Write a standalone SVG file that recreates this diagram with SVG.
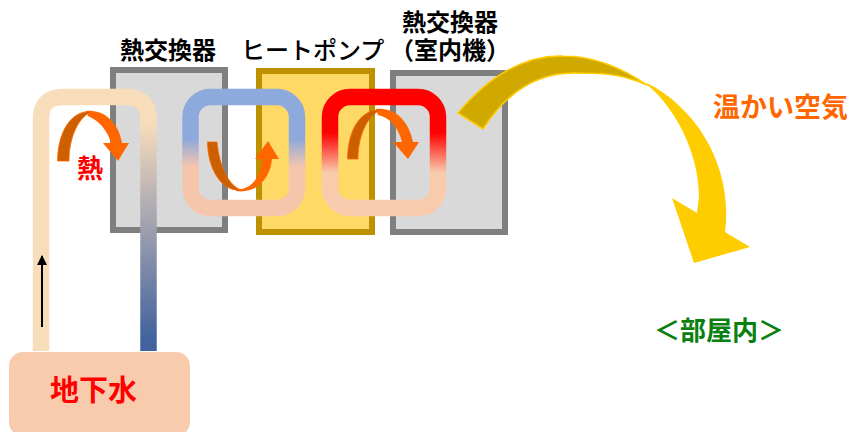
<svg xmlns="http://www.w3.org/2000/svg" width="847" height="432" viewBox="0 0 847 432">
<style>
text{font-family:"Noto Sans CJK JP","Noto Sans",sans-serif}
.lb{font-size:24px;font-weight:700;fill:#000}
.hx{fill:#D9D9D9;stroke:#7F7F7F;stroke-width:6}
.tube{fill:none;stroke-width:16.500}
.or{fill:#FF6600}
.dk{fill:#CC5F00;stroke:#FF6600;stroke-width:.8}
</style>
<defs>
<linearGradient id="g1" gradientUnits="userSpaceOnUse" x1="0" y1="97" x2="0" y2="351">
<stop offset="0.1" stop-color="#F8DDBB"/><stop offset="0.5" stop-color="#A2A2B0"/><stop offset="0.95" stop-color="#42639D"/>
</linearGradient>
<linearGradient id="g2" gradientUnits="userSpaceOnUse" x1="0" y1="88" x2="0" y2="216">
<stop offset="0.4" stop-color="#8EA9DB"/><stop offset="0.62" stop-color="#F6C6AC"/>
</linearGradient>
<linearGradient id="g3" gradientUnits="userSpaceOnUse" x1="0" y1="88" x2="0" y2="216">
<stop offset="0.35" stop-color="#FF0000"/><stop offset="0.66" stop-color="#F8CBAD"/>
</linearGradient>
<marker id="ah" markerWidth="10" markerHeight="10" refX="9" refY="5" orient="auto" markerUnits="userSpaceOnUse"><path d="M0 0L10 5L0 10Z" fill="#000"/></marker>
</defs>

<g id="hx-left"><rect class="hx" x="113" y="70" width="112" height="160"/></g>
<g id="heat-pump"><rect x="259" y="71" width="113" height="161" fill="#FFD966" stroke="#BF9000" stroke-width="6"/></g>
<g id="hx-indoor"><rect class="hx" x="393" y="73" width="112" height="159"/></g>
<g id="groundwater"><rect x="9" y="352" width="181" height="84" rx="14" fill="#F8CBAD"/>
<text x="50" y="401" font-size="29" font-weight="700" fill="#FF0000">地下水</text></g>

<g id="connectors">
<path class="tube" stroke="#F8DDBB" d="M41 351V119Q41 97 63 97H126"/>
<path class="tube" stroke="url(#g1)" d="M125 97H126Q148.500 97 148.500 119V351"/>
<rect class="tube" stroke="url(#g2)" x="190.500" y="97" width="106.500" height="111" rx="20"/>
<rect class="tube" stroke="url(#g3)" x="330" y="97" width="108" height="111" rx="20"/>
<path d="M42 327V256" stroke="#000" stroke-width="2" marker-end="url(#ah)"/>
<path class="or" d="M86 111C105 109 119 124 122 143H129L118 161L103 143H111C108 132 100 121 88 116Z"/>
<path class="dk" d="M57.500 161C58 130 72 110 92 111.500C80 116 69 135 69 161Z"/>
<path class="or" d="M236 189C250 191 261 178 262 159H255L268 141L279 159H272C270 180 255 194 236 191Z"/>
<path class="dk" d="M207.500 142H217C219 165 228 185 241 190C222 192 208 170 207.500 142Z"/>
<path class="or" d="M376 109C396 107 409 122 413 142H419L408 159L393 142H402C399 130 392 118 378 115Z"/>
<path class="dk" d="M347.500 159C348 130 360 109 382 109.500C368 114 358 135 358 159Z"/>
<path fill="#FFCC00" d="M647 85C672 104 699 150 699 197L697 213L672 198L694 263L750 247L725 232C733 170 700 110 647 83Z"/>
<path fill="#CFA800" stroke="#FFCC00" stroke-width="1.500" d="M458 113C490 75 525 55 563 56C595 56 625 70 647 85C620 73 600 73 573 73C535 73 505 95 483 129Z"/>
</g>

<g id="labels">
<text class="lb" x="120" y="59">熱交換器</text>
<text class="lb" x="241" y="59" font-size="24" style="font-weight:500">ヒートポンプ</text>
<text class="lb"><tspan x="402" y="31">熱交換器</tspan><tspan x="390" y="59">（室内機）</tspan></text>
<text x="77" y="178" font-size="26" font-weight="700" fill="#FF0000">熱</text>
<text x="713" y="117" font-size="27" font-weight="700" fill="#FF6600">温かい空気</text>
<text x="654" y="340" font-size="26" font-weight="700" fill="#0A8010">＜部屋内＞</text>
</g>
</svg>
